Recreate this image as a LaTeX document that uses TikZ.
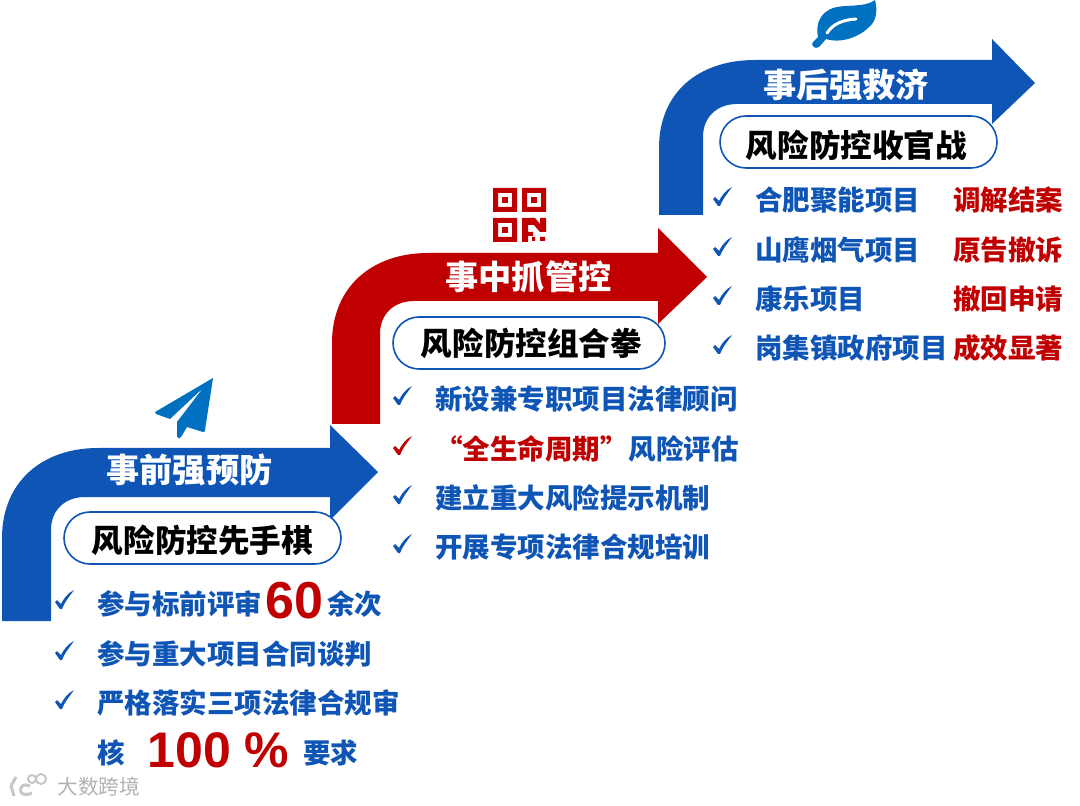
\documentclass[tikz,border=0pt]{standalone}
\usepackage{fontspec}
\setmainfont{Noto Sans CJK SC}
\newfontfamily\numfont{Liberation Sans}
\usetikzlibrary{positioning}
\definecolor{arrowblue}{HTML}{0F55B5}
\definecolor{arrowred}{HTML}{C00000}
\definecolor{iconblue}{HTML}{0070C0}
\tikzset{
  headtext/.style={text=white,font=\fontsize{16.6}{18}\selectfont\bfseries,inner sep=0pt},
  pilltext/.style={draw=arrowblue,line width=0.8pt,fill=white,rounded corners=13pt,text=black,
    font=\fontsize{15.8}{18}\selectfont\bfseries,minimum height=26pt,inner sep=0pt},
  itemblue/.style={right,text=arrowblue,font=\fontsize{13.75}{16}\selectfont\bfseries,inner sep=0pt},
  itemred/.style={right,text=arrowred,font=\fontsize{13.75}{16}\selectfont\bfseries,inner sep=0pt},
  bignum/.style={right,text=arrowred,font=\fontsize{25}{28}\selectfont\numfont\bfseries,inner sep=0pt},
  markpath/.style={fill=#1,draw=none}
}
\newcommand{\chk}[3]{\fill[markpath=#3,shift={(#1,#2)}] (-9,2) -- (-7,0) -- (-3,4) .. controls (0,-2) and (4,-7) .. (10,-10) .. controls (5,-3) and (0,3) .. (-2,9) -- (-4,9) -- cycle;}

\begin{document}
\begin{tikzpicture}[x=0.5pt,y=-0.5pt]

\useasboundingbox (0,0) rectangle (1080,806);

% arrows
\fill[arrowblue] (2,621) -- (2,538) .. controls (2,482) and (42,448) .. (98,448) -- (330,448) -- (330,425) -- (378,472) -- (330,520) -- (330,497) -- (85,497) .. controls (65,497) and (51,510) .. (51,530) -- (51,621) -- cycle;
\fill[arrowred] (332,424) -- (332,343) .. controls (332,287) and (372,253) .. (428,253) -- (658,253) -- (658,228) -- (707,277) -- (658,324) -- (658,301) -- (414,301) .. controls (394,301) and (380,314) .. (380,334) -- (380,424) -- cycle;
\fill[arrowblue] (659,215) -- (659,148) .. controls (659,92) and (699,60) .. (755,60) -- (992,60) -- (992,39) -- (1035,83) -- (992,124) -- (992,104) -- (737,104) .. controls (717,104) and (703,117) .. (703,137) -- (703,215) -- cycle;

\node[headtext] (heada) at (189.5,470) {事前强预防};
\node[headtext] (headb) at (528.5,277) {事中抓管控};
\node[headtext] (headc) at (846,85) {事后强救济};

\node[pilltext,minimum width=138.5pt,text height=16.5pt] (pilla) at (202.5,538) {风险防控先手棋};
\node[pilltext,minimum width=136pt] (pillb) at (529,343) {\hspace*{2.5pt}风险防控组合拳};
\node[pilltext,minimum width=138.5pt,text height=17.5pt] (pillc) at (858.5,142) {风险防控收官战\hspace*{2pt}};

% first step
\chk{64}{600}{arrowblue}
\chk{64}{651}{arrowblue}
\chk{64}{700}{arrowblue}
\node[itemblue] (preone) at (97,604) {参与标前评审};
\node[bignum,font=\fontsize{26}{28}\selectfont\numfont\bfseries] (presixty) at (265,601) {60};
\node[itemblue] (premore) at (327,604) {余次};
\node[itemblue] (pretwo) at (97,654) {参与重大项目合同谈判};
\node[itemblue] (prethree) at (97,703) {严格落实三项法律合规审};
\node[itemblue] (prefour) at (97,753) {核};
\node[bignum] (prehundred) at (147,750) {100 \%};
\node[itemblue] (preask) at (303,753) {要求};

% second step
\chk{402}{396}{arrowblue}
\chk{402}{446}{arrowred}
\chk{402}{495}{arrowblue}
\chk{402}{544}{arrowblue}
\node[itemblue] (midone) at (435,399) {新设兼专职项目法律顾问};
\node[itemred] (midtwo) at (435,449) {“全生命周期”};
\node[itemblue,right=0pt of midtwo] (midrisk) {风险评估};
\node[itemblue] (midthree) at (435,498) {建立重大风险提示机制};
\node[itemblue] (midfour) at (435,547) {开展专项法律合规培训};

% third step
\foreach \y in {197,247,296,345}{
  \chk{722}{\y}{arrowblue}
}
\node[itemblue] (postone) at (755,200) {合肥聚能项目};
\node[itemblue] (posttwo) at (755,250) {山鹰烟气项目};
\node[itemblue] (postthree) at (755,299) {康乐项目};
\node[itemblue] (postfour) at (755,348) {岗集镇政府项目};
\node[itemred] (resone) at (953,200) {调解结案};
\node[itemred] (restwo) at (953,250) {原告撤诉};
\node[itemred] (resthree) at (953,299) {撤回申请};
\node[itemred] (resfour) at (953,348) {成效显著};

% plane
\fill[iconblue] (213,378) -- (155,412) -- (156,414) -- (170,419) -- (203,388) -- (177,422) -- (177,436) .. controls (178,439) and (180,439) .. (181,437) -- (187,427) -- (203,432) .. controls (205,432) and (205,431) .. (205,430) -- cycle;

% code
\foreach \x/\y in {493/188,522/188,493/218}{
  \fill[arrowred,even odd rule,shift={(\x,\y)}] (0,0) rectangle (24,24) (5,5) rectangle (19,19);
  \fill[arrowred,shift={(\x,\y)}] (9,9) rectangle (15,15);
}
\fill[arrowred] (522,218) -- (535,218) -- (540,224) -- (540,218) -- (546,218) -- (546,232) -- (540,232) -- (534,225) -- (528,225) -- (528,232) -- (533,232) -- (533,236) -- (528,236) -- (528,242) -- (522,242) -- cycle;
\fill[arrowred] (532,237) rectangle (535,241) (540,237) rectangle (545,241);

% leaf
\fill[iconblue] (818,37) .. controls (815,22) and (822,12) .. (833,8) .. controls (845,4) and (865,8) .. (875,0) .. controls (878,12) and (876,22) .. (868,28) .. controls (860,36) and (842,44) .. (826,39) -- (819,47) .. controls (815,50) and (810,45) .. (813,42) -- cycle;
\draw[white,line width=1.5pt,line cap=round] (827,33) .. controls (833,24) and (842,20) .. (856,19);

% mark
\node[right,text=black!30,font=\fontsize{10.3}{12}\selectfont,inner sep=0pt] (markname) at (57,787) {大数跨境};
\draw[black!22,line width=1.5pt] (16,777) -- (11,786) -- (14,796);
\draw[black!22,line width=1.5pt] (30,786) .. controls (18,780) and (16,800) .. (32,793);
\draw[black!22,line width=1pt] (32,779) circle (4) (41,779) circle (5);

\end{tikzpicture}
\end{document}
